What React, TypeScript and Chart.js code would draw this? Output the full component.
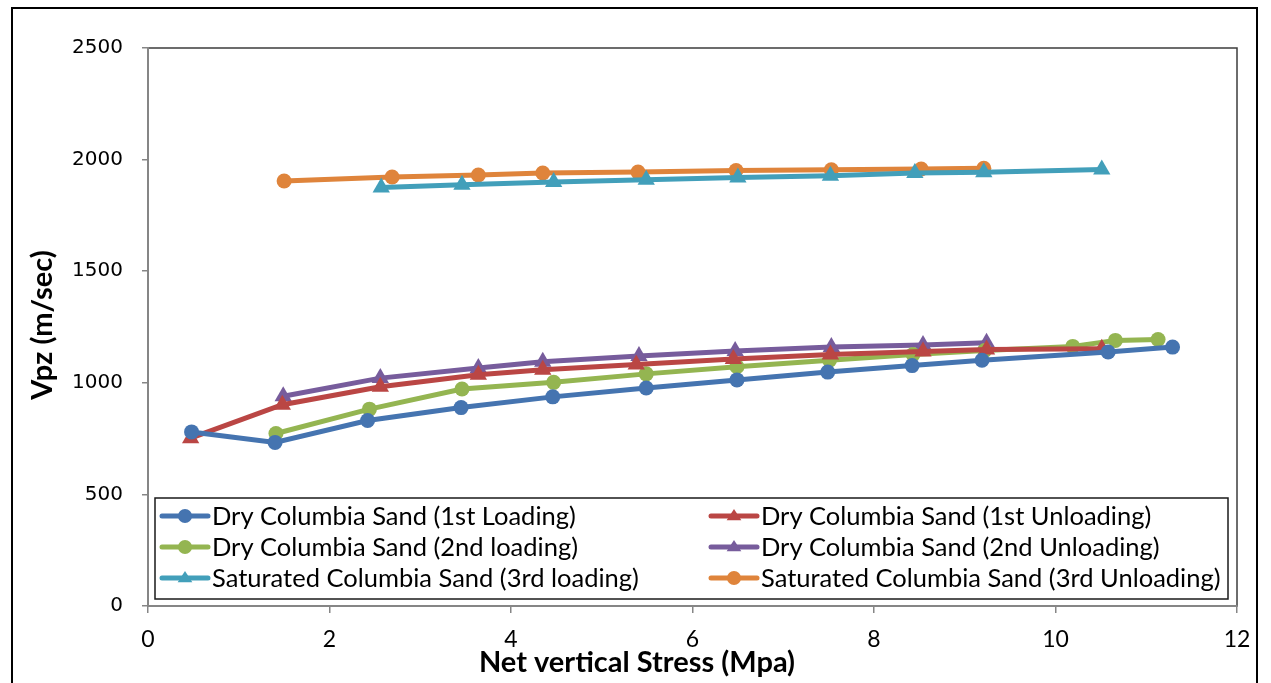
import React, { useEffect, useRef } from "react";
import { Chart, registerables } from "chart.js";

Chart.register(...registerables);

// ---- Data ----
const seriesNames = [
  "Dry Columbia Sand (1st Loading)",
  "Dry Columbia Sand (1st Unloading)",
  "Dry Columbia Sand (2nd loading)",
  "Dry Columbia Sand (2nd Unloading)",
  "Saturated Columbia Sand (3rd loading)",
  "Saturated Columbia Sand (3rd Unloading)",
];

const dry1LoadStress = [0.48, 1.4, 2.42, 3.45, 4.46, 5.49, 6.49, 7.49, 8.42, 9.19, 10.58, 11.29];
const dry1LoadVpz = [780, 733, 831, 889, 937, 977, 1013, 1048, 1077, 1101, 1138, 1160];

const dry1UnloadStress = [0.47, 1.48, 2.56, 3.64, 4.35, 5.38, 6.45, 7.52, 8.54, 9.24, 10.51];
const dry1UnloadVpz = [752, 902, 982, 1036, 1058, 1082, 1107, 1127, 1140, 1149, 1152];

const dry2LoadStress = [1.41, 2.44, 3.46, 4.47, 5.49, 6.49, 7.51, 8.43, 9.22, 10.19, 10.66, 11.13];
const dry2LoadVpz = [773, 882, 972, 1002, 1040, 1072, 1101, 1127, 1145, 1163, 1190, 1194];

const dry2UnloadStress = [1.49, 2.56, 3.64, 4.35, 5.41, 6.47, 7.53, 8.54, 9.24];
const dry2UnloadVpz = [940, 1021, 1066, 1094, 1120, 1142, 1160, 1169, 1179];

const sat3LoadStress = [2.57, 3.46, 4.47, 5.49, 6.5, 7.52, 8.45, 9.21, 10.51];
const sat3LoadVpz = [1875, 1887, 1900, 1910, 1920, 1928, 1940, 1943, 1956];

const sat3UnloadStress = [1.5, 2.69, 3.64, 4.35, 5.4, 6.48, 7.53, 8.52, 9.21];
const sat3UnloadVpz = [1904, 1922, 1931, 1940, 1944, 1951, 1954, 1958, 1961];

const xTicks = [0, 2, 4, 6, 8, 10, 12];
const yTicks = [0, 500, 1000, 1500, 2000, 2500];

const xTitle = "Net vertical Stress (Mpa)";
const yTitle = "Vpz (m/sec)";

// ---- Styles ----
const colors = ["#4574B0", "#BA4644", "#94B551", "#775C9C", "#429FBA", "#DF843B"];
const markers = ["circle", "triangle", "circle", "triangle", "triangle", "circle"];

const W = 1271;
const H = 683;
const CA = { left: 148, top: 48, right: 1237, bottom: 606 };

const zip = (xs: number[], ys: number[]) => xs.map((x, i) => ({ x, y: ys[i] }));

function drawMarker(ctx: CanvasRenderingContext2D, style: string, x: number, y: number, r: number) {
  ctx.beginPath();
  if (style === "circle") {
    ctx.arc(x, y, r, 0, Math.PI * 2);
  } else {
    const h = r * 1.6;
    ctx.moveTo(x, y - h * 0.62);
    ctx.lineTo(x + r * 1.05, y + h * 0.38);
    ctx.lineTo(x - r * 1.05, y + h * 0.38);
    ctx.closePath();
  }
  ctx.fill();
}

const framePlugin = {
  id: "frame",
  beforeDraw(chart: any) {
    const ctx = chart.ctx as CanvasRenderingContext2D;
    ctx.save();
    ctx.fillStyle = "#ffffff";
    ctx.fillRect(0, 0, W, H);
    // outer chart border
    ctx.strokeStyle = "#000000";
    ctx.lineWidth = 2;
    ctx.strokeRect(12, 8, 1245, 700);
    // plot area border
    const a = chart.chartArea;
    ctx.strokeStyle = "#3c3c3c";
    ctx.lineWidth = 1.5;
    ctx.strokeRect(a.left, a.top, a.right - a.left, a.bottom - a.top);
    ctx.restore();
  },
  afterDraw(chart: any) {
    const ctx = chart.ctx as CanvasRenderingContext2D;
    ctx.save();
    // axis titles
    ctx.fillStyle = "#000000";
    ctx.font = "bold 29px Lato, 'DejaVu Sans', sans-serif";
    ctx.textAlign = "center";
    ctx.textBaseline = "middle";
    ctx.fillText(xTitle, 637, 663);
    ctx.translate(43, 325);
    ctx.rotate(-Math.PI / 2);
    ctx.fillText(yTitle, 0, 0);
    ctx.restore();

    // legend
    ctx.save();
    const lx = 155, ly = 498, lw = 1073, lh = 101;
    ctx.fillStyle = "#ffffff";
    ctx.fillRect(lx, ly, lw, lh);
    ctx.strokeStyle = "#1a1a1a";
    ctx.lineWidth = 1.5;
    ctx.strokeRect(lx, ly, lw, lh);
    const rows = [516, 547, 578];
    const cols = [162, 711];
    ctx.font = "25.5px Lato, 'DejaVu Sans', sans-serif";
    ctx.textBaseline = "middle";
    ctx.textAlign = "left";
    seriesNames.forEach((name, i) => {
      const cx = cols[i % 2];
      const cy = rows[Math.floor(i / 2)];
      ctx.strokeStyle = colors[i];
      ctx.lineWidth = 5;
      ctx.lineCap = "round";
      ctx.beginPath();
      ctx.moveTo(cx, cy);
      ctx.lineTo(cx + 46, cy);
      ctx.stroke();
      ctx.fillStyle = colors[i];
      drawMarker(ctx, markers[i], cx + 23, cy, 7);
      ctx.fillStyle = "#000000";
      ctx.fillText(name, cx + 50, cy + 1);
    });
    ctx.restore();
  },
};

export default function App() {
  const ref = useRef<HTMLCanvasElement | null>(null);

  useEffect(() => {
    document.body.style.margin = "0";
    const canvas = ref.current!;
    const series = [
      zip(dry1LoadStress, dry1LoadVpz),
      zip(dry1UnloadStress, dry1UnloadVpz),
      zip(dry2LoadStress, dry2LoadVpz),
      zip(dry2UnloadStress, dry2UnloadVpz),
      zip(sat3LoadStress, sat3LoadVpz),
      zip(sat3UnloadStress, sat3UnloadVpz),
    ];
    const chart = new Chart(canvas, {
      type: "scatter",
      data: {
        datasets: series.map((d, i) => ({
          label: seriesNames[i],
          data: d,
          showLine: true,
          borderColor: colors[i],
          backgroundColor: colors[i],
          borderWidth: 5,
          pointStyle: markers[i] as any,
          pointRadius: markers[i] === "circle" ? 7.5 : 10,
          pointBorderWidth: 0,
          pointBorderColor: colors[i],
          pointBackgroundColor: colors[i],
          tension: 0,
          order: i,
        })),
      },
      options: {
        animation: false,
        responsive: false,
        devicePixelRatio: 1,
        layout: { padding: { left: 0, top: CA.top, right: W - CA.right, bottom: 0 } },
        plugins: { legend: { display: false }, tooltip: { enabled: false }, title: { display: false } },
        scales: {
          x: {
            type: "linear",
            min: 0,
            max: 12,
            afterBuildTicks: (s: any) => { s.ticks = xTicks.map((v) => ({ value: v })); },
            afterFit: (s: any) => { s.height = H - CA.bottom; },
            grid: { drawOnChartArea: false, drawTicks: true, tickLength: 7, color: "#868686", lineWidth: 1.5 },
            border: { color: "#868686", width: 2 },
            ticks: {
              color: "#000000",
              padding: 13,
              font: { family: "Lato, 'DejaVu Sans', sans-serif", size: 23 },
              maxRotation: 0,
              callback: (v: any) => String(v),
            },
          },
          y: {
            type: "linear",
            min: 0,
            max: 2500,
            afterBuildTicks: (s: any) => { s.ticks = yTicks.map((v) => ({ value: v })); },
            afterFit: (s: any) => { s.width = CA.left; },
            grid: { drawOnChartArea: false, drawTicks: true, tickLength: 6, color: "#868686", lineWidth: 1.5 },
            border: { color: "#868686", width: 2 },
            ticks: {
              color: "#000000",
              padding: 19,
              font: { family: "'DejaVu Sans', Verdana, sans-serif", size: 20 },
              callback: (v: any) => String(v),
            },
          },
        },
      },
      plugins: [framePlugin],
    } as any);
    return () => chart.destroy();
  }, []);

  return (
    <div style={{ position: "absolute", left: 0, top: 0, width: W, height: H }}>
      <canvas ref={ref} width={W} height={H} style={{ width: W, height: H, display: "block" }} />
    </div>
  );
}
